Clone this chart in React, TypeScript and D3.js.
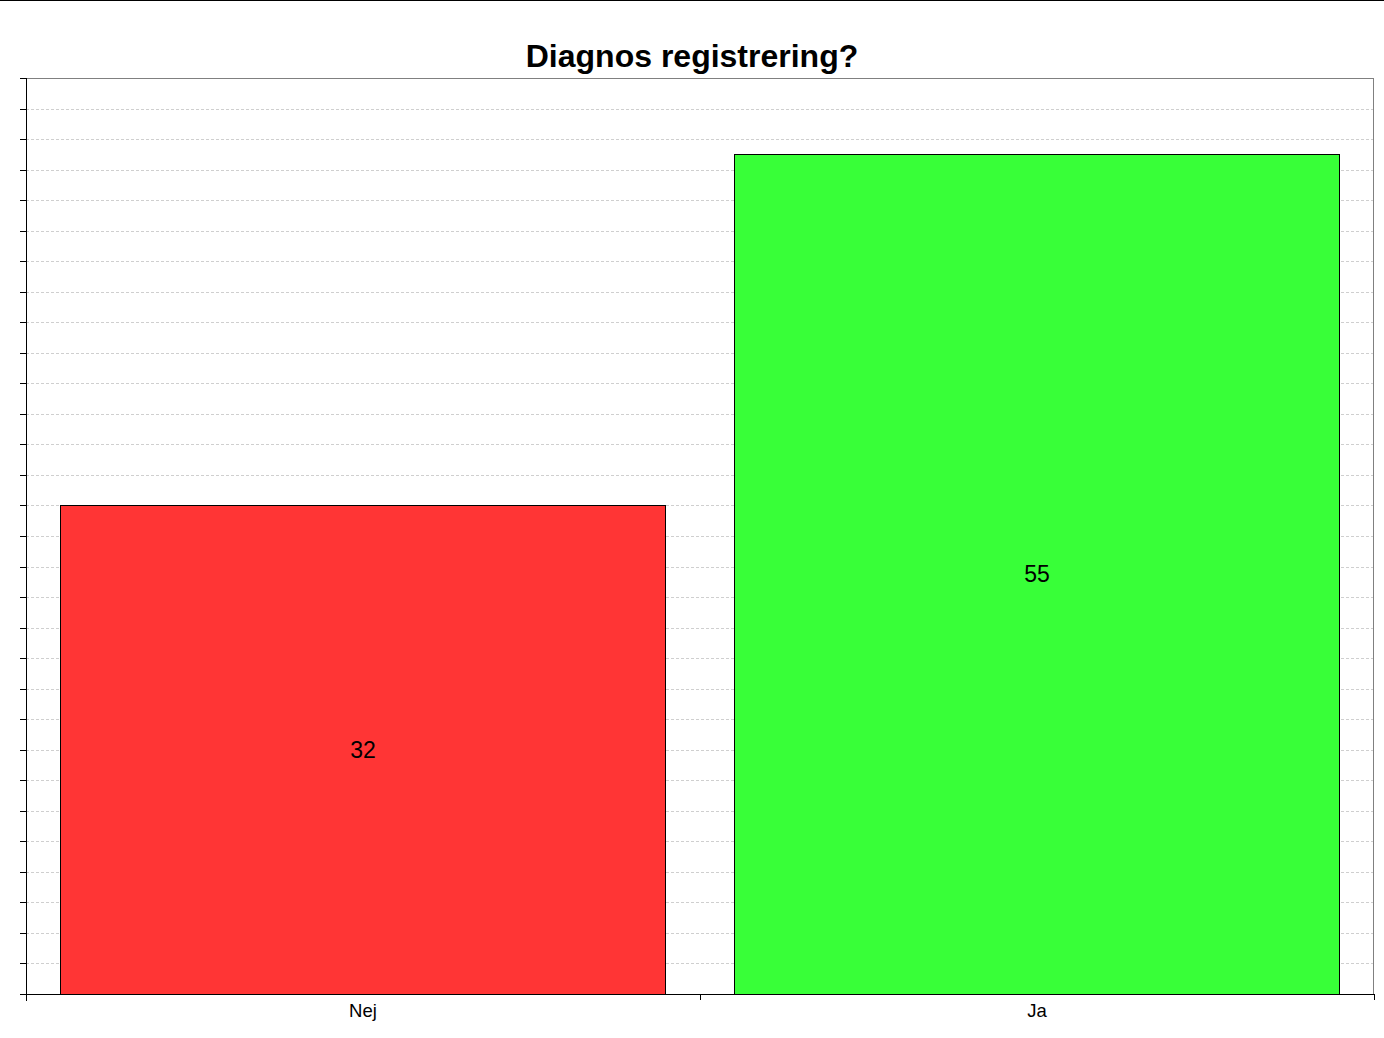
import * as d3 from "d3";

const categories = ["Nej", "Ja"];
const values = [32, 55];
const colors = ["#ff3535", "#38ff38"];
const yTicks = d3.range(0, 62, 2);
const title = "Diagnos registrering?";

const W = 1384;
const H = 1038;
const margin = { top: 78, right: 10, bottom: 44, left: 26 };

const App = () => {
  const x = d3
    .scaleBand()
    .domain(categories)
    .range([margin.left, W - margin.right])
    .paddingInner(0.102)
    .paddingOuter(0.051);

  const y = d3
    .scaleLinear()
    .domain([0, 60])
    .range([H - margin.bottom, margin.top]);

  const x0 = margin.left;
  const x1 = W - margin.right;
  const y0 = y(0);
  const y1 = y(60);
  const step = (x1 - x0) / categories.length;

  return (
    <svg
      width={W}
      height={H}
      style={{ position: "absolute", left: 0, top: 0, background: "#fff" }}
      fontFamily="Liberation Sans, Arial, sans-serif"
    >
      <line x1={0} x2={W} y1={0.5} y2={0.5} stroke="#000" />
      <text x={692} y={67} textAnchor="middle" fontSize={32} fontWeight="bold">
        {title}
      </text>
      {yTicks.slice(1, -1).map((t) => (
        <line
          key={t}
          x1={x0}
          x2={x1}
          y1={Math.round(y(t)) + 0.5}
          y2={Math.round(y(t)) + 0.5}
          stroke="#cfcfcf"
          strokeDasharray="3,2"
        />
      ))}
      <line x1={x0} x2={x1} y1={y1 + 0.5} y2={y1 + 0.5} stroke="#808080" />
      <line x1={x1 - 0.5} x2={x1 - 0.5} y1={y1} y2={y0} stroke="#808080" />
      {categories.map((c, i) => (
        <g key={c}>
          <rect
            x={Math.round(x(c)!) + 0.5}
            y={Math.round(y(values[i])) + 0.5}
            width={Math.round(x.bandwidth())}
            height={Math.round(y0 - y(values[i]))}
            fill={colors[i]}
            stroke="#000"
          />
          <text
            x={x(c)! + x.bandwidth() / 2}
            y={(y(values[i]) + y0) / 2 + 8}
            textAnchor="middle"
            fontSize={23}
          >
            {values[i]}
          </text>
          <text
            x={x(c)! + x.bandwidth() / 2}
            y={1017}
            textAnchor="middle"
            fontSize={18.5}
          >
            {c}
          </text>
        </g>
      ))}
      <line x1={x0 + 0.5} x2={x0 + 0.5} y1={y1} y2={y0 + 7} stroke="#000" />
      {yTicks.map((t) => (
        <line
          key={t}
          x1={x0 - 6}
          x2={x0}
          y1={Math.round(y(t)) + 0.5}
          y2={Math.round(y(t)) + 0.5}
          stroke="#000"
        />
      ))}
      <line x1={x0} x2={x1} y1={Math.round(y0) + 0.5} y2={Math.round(y0) + 0.5} stroke="#000" />
      {d3.range(categories.length + 1).map((i) => (
        <line
          key={i}
          x1={Math.round(x0 + i * step) + 0.5}
          x2={Math.round(x0 + i * step) + 0.5}
          y1={y0}
          y2={y0 + 6}
          stroke="#000"
        />
      ))}
    </svg>
  );
};

export default App;
